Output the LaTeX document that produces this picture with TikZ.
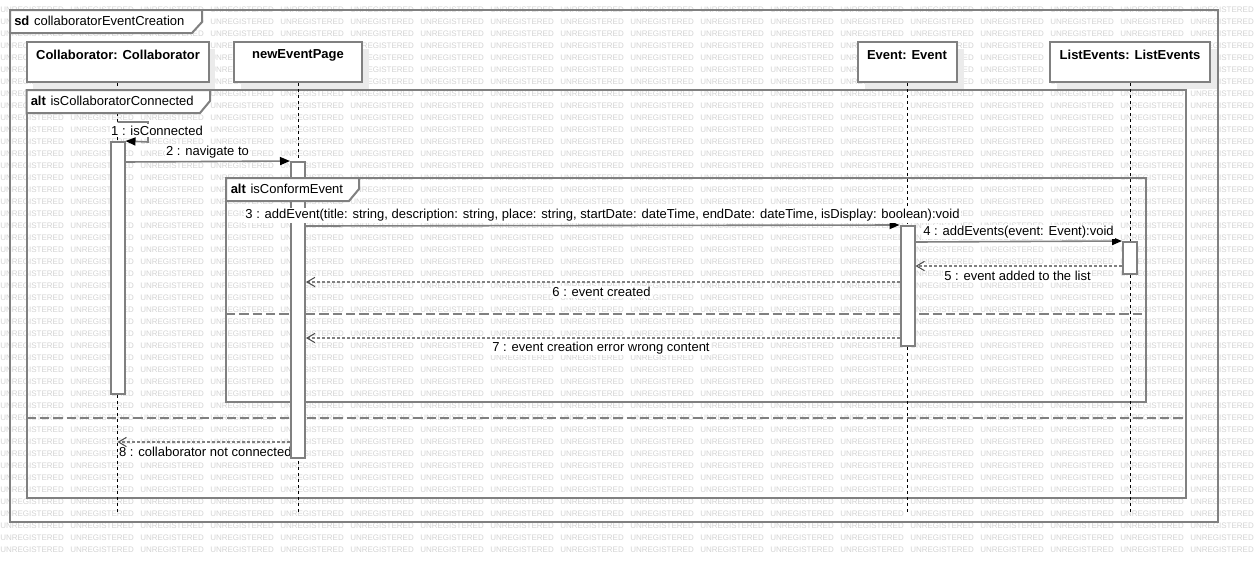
\documentclass[tikz,border=0pt]{standalone}
\usepackage{fontspec}
\setmainfont{Liberation Sans}
\usetikzlibrary{arrows.meta,shadows}
\begin{document}
\begin{tikzpicture}[x=0.75pt,y=-0.75pt,
  every node/.style={font=\fontsize{9.75pt}{11pt}\selectfont, inner sep=0pt},
  wm/.style={anchor=west, text=black!17, font=\fontsize{6pt}{6pt}\selectfont},
  framebox/.style={draw=black!50, line width=1.5pt},
  tabbox/.style={draw=black!50, line width=1.5pt, fill=white},
  altsep/.style={draw=black!50, line width=1.5pt, dash pattern=on 7pt off 3pt},
  headbox/.style={draw=black!50, line width=1.5pt, fill=white, minimum height=30pt,
    general shadow={fill=black!8, shadow xshift=5pt, shadow yshift=-5pt}},
  headtext/.style={font=\bfseries\fontsize{9.75pt}{11pt}\selectfont},
  lifeline/.style={draw=black, line width=0.75pt, dash pattern=on 2.25pt off 2.25pt},
  actbar/.style={draw=black!50, line width=1.5pt, fill=white, minimum width=10.5pt},
  msg/.style={draw=black!50, line width=1.2pt, -{Triangle[length=7.5pt,width=6pt,color=black]}},
  ret/.style={draw=black!50, line width=1.2pt, dash pattern=on 2.25pt off 1.5pt,
    -{Straight Barb[length=6pt,width=7pt,line width=0.75pt,color=black!70]}},
  msglbl/.style={fill=white, inner sep=1pt},
  tablbl/.style={anchor=west}
]
\useasboundingbox (0,0) rectangle (1258,562);
\fill[white] (0,0) rectangle (1258,562);
% watermark
\foreach \i in {0,...,17}{
  \foreach \k in {0,...,45}{
    \node[wm] (wm-\i-\k) at (70*\i, 9.5+12*\k) {UNREGISTERED};
  }
}
% frames
\draw[framebox] (10,10) rectangle (1218,521.5);
\draw[framebox] (26.5,90) rectangle (1186,498);
\draw[framebox] (226,178) rectangle (1146,402);
\draw[altsep] (26.5,418) -- (1186,418);
\draw[altsep] (226,314) -- (1146,314);
% lifeline heads
\node[headbox, minimum width=136.5pt] (hc) at (117.5,62) {};
\node[headbox, minimum width=96pt] (hn) at (298,62) {};
\node[headbox, minimum width=74.25pt] (he) at (907.5,62) {};
\node[headbox, minimum width=120pt] (hl) at (1130,62) {};
\node[headtext] (tc) at (118,55) {Collaborator: Collaborator};
\node[headtext] (tn) at (298,55) {newEventPage};
\node[headtext] (te) at (907,55) {Event: Event};
\node[headtext] (tl) at (1130,55) {ListEvents: ListEvents};
% lifelines
\coordinate (ec) at (117.5,512);
\coordinate (en) at (298,512);
\coordinate (ee) at (907.5,512);
\coordinate (el) at (1130,512);
\draw[lifeline] (hc.south) -- (ec);
\draw[lifeline] (hn.south) -- (en);
\draw[lifeline] (he.south) -- (ee);
\draw[lifeline] (hl.south) -- (el);
% label 8 (below the bar)
\node[msglbl, anchor=west] (l8) at (117.5,451.5) {8 : collaborator not connected};
% activation bars
\node[actbar, minimum height=189pt] (a1) at (117.5,268) {};
\node[actbar, minimum height=222pt] (a2) at (298,310) {};
\node[actbar, minimum height=90pt] (a3) at (907.5,286) {};
\node[actbar, minimum height=24pt] (a4) at (1130,258) {};
% tabs
\draw[tabbox] (10,10) -- (202,10) -- (202,22) -- (192,33) -- (10,33) -- cycle;
\draw[tabbox] (26.5,90) -- (210,90) -- (210,101) -- (200,113) -- (26.5,113) -- cycle;
\draw[tabbox] (226,178) -- (359,178) -- (359,189) -- (349,201) -- (226,201) -- cycle;
\node[tablbl] (tsd) at (14,20.5) {\textbf{sd}\hspace{3.5pt}collaboratorEventCreation};
\node[tablbl] (talt1) at (30.5,100.5) {\textbf{alt}\hspace{3.5pt}isCollaboratorConnected};
\node[tablbl] (talt2) at (230.5,188.5) {\textbf{alt}\hspace{3.5pt}isConformEvent};
% messages
\coordinate (m1s) at (117.5,122);
\draw[msg] (m1s) -- (148,122) -- (148,142) -- (a1.north east);
\draw[msg] (a1.east |- 0,162) -- (a2.north west);
\draw[msg] (a2.east |- 0,226) -- (a3.north west);
\draw[msg] (a3.east |- 0,242) -- (a4.north west);
\draw[ret] (a4.west |- 0,266) -- (a3.east |- 0,266);
\draw[ret] (a3.west |- 0,282) -- (a2.east |- 0,282);
\draw[ret] (a3.west |- 0,338) -- (a2.east |- 0,338);
\coordinate (m8e) at (117.5,442);
\draw[ret] (a2.west |- 0,442) -- (m8e);
% message labels
\node[msglbl] (l1) at (157,130.5) {1 : isConnected};
\node[msglbl] (l2) at (207.5,152) {2 : navigate to};
\node[msglbl] (l3) at (602.5,215.5) {3 : addEvent(title: string, description: string, place: string, startDate: dateTime, endDate: dateTime, isDisplay: boolean):void};
\node[msglbl] (l4) at (1018.5,232) {4 : addEvents(event: Event):void};
\node[msglbl] (l5) at (1017.5,275.5) {5 : event added to the list};
\node[msglbl] (l6) at (601.5,292) {6 : event created};
\node[msglbl] (l7) at (601,348) {7 : event creation error wrong content};
\end{tikzpicture}
\end{document}
